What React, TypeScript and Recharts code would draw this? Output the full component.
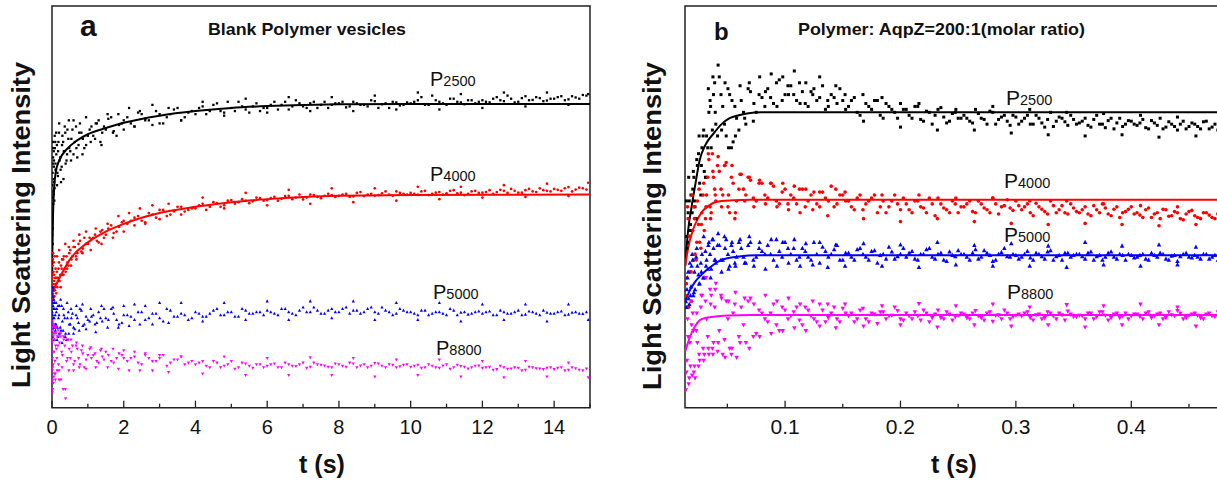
import React from "react";
import { ComposedChart, Scatter, Line, XAxis, YAxis, ReferenceArea } from "recharts";

const FONT = "'Liberation Sans', Arial, Helvetica, sans-serif";
const AXIS = "#222";

// ---------- panel a : blank polymer vesicles (t in s, intensity in arb. units) ----------
const timeA = [
  0.005, 0.01, 0.015, 0.02, 0.03, 0.04, 0.05,
  0.06, 0.08, 0.1,
  0.12, 0.15, 0.18, 0.21, 0.25, 0.29, 0.33, 0.38, 0.43, 0.48,
  0.54, 0.6, 0.67, 0.74, 0.82, 0.9, 1.0,
  1.1, 1.2, 1.3, 1.4, 1.5, 1.65, 1.8, 1.95,
  2.1, 2.3, 2.5, 2.7, 2.9, 3.1, 3.3, 3.5, 3.7, 3.9,
  4.1, 4.3, 4.5, 4.7, 4.9, 5.1, 5.3, 5.5, 5.7, 5.9,
  6.1, 6.3, 6.5, 6.7, 6.9, 7.1, 7.3, 7.5, 7.7, 7.9,
  8.1, 8.3, 8.5, 8.7, 8.9, 9.1, 9.3, 9.5, 9.7, 9.9,
  10.1, 10.3, 10.5, 10.7, 10.9, 11.1, 11.3, 11.5, 11.7, 11.9,
  12.1, 12.3, 12.5, 12.7, 12.9, 13.1, 13.3, 13.5, 13.7, 13.9,
  14.1, 14.3, 14.5, 14.7, 14.9,
];
const p2500A = [
  4.5, 6.2, 7.6, 5.3, 8.1, 6.9, 7.8,
  7.3, 8.4, 7.7,
  8.2, 7.6, 8.6, 8.0, 7.3, 8.8, 8.3, 7.9, 9.0, 8.4,
  8.7, 8.2, 9.1, 8.5, 8.9, 8.4, 8.8,
  9.1, 8.7, 9.3, 8.9, 9.0, 9.4, 8.8, 9.2,
  9.4, 9.1, 9.5, 9.3, 9.6, 9.2, 9.5, 9.7, 9.4, 9.6,
  9.7, 9.5, 9.8, 9.6, 9.9, 9.6, 9.75, 9.55, 9.85, 9.7,
  9.8, 9.65, 9.9, 9.75, 9.85, 9.7, 9.9, 9.8, 9.7, 9.85,
  9.9, 9.75, 9.85, 9.8, 9.95, 9.7, 9.85, 9.9, 9.78, 9.88,
  9.9, 10.05, 9.8, 9.95, 9.85, 10.0, 9.9, 9.82, 9.95, 9.9,
  9.9, 10.0, 9.95, 10.1, 9.88, 10.02, 9.95, 10.05, 9.92, 10.0,
  10.05, 9.95, 10.08, 10.0, 10.1,
];
const p4000A = [
  3.7, 4.2, 3.5, 4.6, 3.9, 4.4, 3.6,
  4.1, 3.8, 4.5,
  4.2, 3.9, 4.5, 4.1, 4.6, 4.3, 4.9, 4.4, 4.7, 5.0,
  4.8, 5.2, 4.9, 5.3, 5.05, 5.5, 5.3,
  5.45, 5.6, 5.35, 5.75, 5.6, 5.9, 5.7, 6.0,
  5.95, 6.15, 6.05, 6.3, 6.15, 6.4, 6.25, 6.5, 6.35, 6.45,
  6.55, 6.4, 6.65, 6.5, 6.7, 6.6, 6.75, 6.62, 6.8, 6.7,
  6.78, 6.7, 6.85, 6.75, 6.9, 6.8, 6.88, 6.78, 6.92, 6.82,
  6.9, 6.82, 6.95, 6.85, 6.92, 6.88, 7.0, 6.86, 6.95, 6.9,
  6.92, 7.0, 6.88, 6.96, 6.9, 7.02, 6.94, 6.88, 7.0, 6.95,
  6.98, 6.92, 7.05, 6.95, 7.02, 6.96, 7.08, 6.98, 7.04, 7.0,
  7.05, 7.1, 7.0, 7.12, 7.06,
];
const p5000A = [
  3.4, 2.8, 3.7, 3.0, 3.3, 2.6, 3.5,
  2.9, 3.2, 2.7,
  3.1, 2.6, 2.9, 3.3, 2.5, 2.8, 3.0, 2.4, 2.9, 2.7,
  2.9, 2.6, 3.0, 2.75, 3.15, 2.7, 2.85,
  2.95, 2.7, 3.1, 2.8, 2.9, 3.2, 2.85, 2.75,
  3.0, 2.85, 3.1, 2.9, 3.05, 2.8, 3.15, 2.95, 3.0, 2.9,
  3.05, 2.95, 3.15, 3.0, 3.1, 2.95, 3.2, 3.05, 3.1, 3.0,
  3.1, 3.0, 3.2, 3.05, 3.15, 3.1, 3.25, 3.05, 3.15, 3.1,
  3.2, 3.05, 3.15, 3.1, 3.25, 3.05, 3.15, 3.0, 3.2, 3.1,
  3.05, 3.15, 3.0, 3.1, 3.05, 3.2, 3.0, 3.1, 3.05, 3.12,
  3.1, 3.0, 3.15, 3.05, 3.1, 3.0, 3.12, 3.05, 3.15, 3.05,
  3.1, 3.0, 3.08, 3.05, 3.1,
];
const p8800A = [
  2.1, 1.2, 2.6, 0.6, 1.8, 2.3, 1.0,
  2.4, 1.5, 2.0,
  1.9, 2.3, 1.4, 2.1, 0.9, 1.7, 2.2, 0.3, 1.6, 1.9,
  1.8, 1.4, 2.0, 1.6, 1.85, 1.3, 1.7,
  1.6, 1.75, 1.45, 1.65, 1.8, 1.5, 1.6, 1.7,
  1.5, 1.65, 1.4, 1.6, 1.5, 1.7, 1.45, 1.55, 1.4, 1.5,
  1.45, 1.35, 1.5, 1.3, 1.4, 1.25, 1.45, 1.35, 1.4, 1.3,
  1.4, 1.3, 1.45, 1.35, 1.4, 1.28, 1.45, 1.38, 1.32, 1.42,
  1.35, 1.45, 1.3, 1.4, 1.35, 1.42, 1.3, 1.38, 1.33, 1.4,
  1.35, 1.28, 1.4, 1.3, 1.36, 1.25, 1.38, 1.32, 1.3, 1.36,
  1.3, 1.22, 1.35, 1.25, 1.3, 1.2, 1.32, 1.27, 1.24, 1.3,
  1.28, 1.2, 1.3, 1.22, 1.26,
];
// second run of readings, in between the first
const timeA2 = [
  0.007, 0.012, 0.018, 0.025, 0.035, 0.045,
  0.055, 0.07, 0.09,
  0.11, 0.135, 0.165, 0.195, 0.23, 0.27, 0.31, 0.355, 0.405, 0.455,
  0.51, 0.57, 0.635, 0.705, 0.78, 0.86, 0.95, 1.05,
  1.15, 1.25, 1.35, 1.45, 1.57, 1.72, 1.87, 2.0,
  2.2, 2.4, 2.6, 2.8, 3.0, 3.2, 3.4, 3.6, 3.8,
  4.0, 4.2, 4.4, 4.6, 4.8, 5.0, 5.2, 5.4, 5.6, 5.8,
  6.0, 6.2, 6.4, 6.6, 6.8, 7.0, 7.2, 7.4, 7.6, 7.8,
  8.0, 8.2, 8.4, 8.6, 8.8, 9.0, 9.2, 9.4, 9.6, 9.8,
  10.0, 10.2, 10.4, 10.6, 10.8, 11.0, 11.2, 11.4, 11.6, 11.8,
  12.0, 12.2, 12.4, 12.6, 12.8, 13.0, 13.2, 13.4, 13.6, 13.8,
  14.0, 14.2, 14.4, 14.6, 14.8,
];
const p2500A2 = [
  5.0, 7.2, 5.8, 8.4, 6.6, 7.4,
  8.0, 7.1, 8.6,
  7.7, 8.5, 7.5, 8.9, 8.1, 7.8, 8.6, 9.1, 8.0, 8.7,
  8.3, 9.0, 8.6, 8.1, 9.2, 8.7, 8.5, 9.0,
  8.8, 9.2, 8.6, 9.1, 9.35, 8.95, 9.15, 9.3,
  9.2, 9.55, 9.35, 9.15, 9.5, 9.4, 9.65, 9.3, 9.55,
  9.5, 9.75, 9.6, 9.85, 9.55, 9.7, 9.9, 9.65, 9.75, 9.6,
  9.7, 9.9, 9.8, 9.65, 9.95, 9.75, 9.85, 9.7, 9.9, 9.8,
  9.85, 9.72, 9.9, 9.8, 9.75, 9.92, 9.82, 9.7, 9.88, 9.8,
  9.85, 9.95, 9.8, 10.1, 9.9, 9.8, 10.0, 9.88, 9.95, 9.85,
  9.95, 9.88, 10.05, 9.92, 10.0, 9.9, 10.08, 9.96, 10.02, 9.94,
  10.0, 10.08, 9.98, 10.04, 10.12,
];
const p4000A2 = [
  3.9, 3.4, 4.3, 3.8, 4.0, 3.6,
  4.3, 3.9, 4.2,
  4.0, 4.4, 4.2, 4.7, 4.3, 4.5, 4.8, 4.5, 4.9, 4.6,
  5.1, 4.9, 5.2, 5.0, 5.4, 5.15, 5.3, 5.5,
  5.5, 5.4, 5.7, 5.5, 5.8, 5.65, 5.85, 6.05,
  6.05, 6.2, 5.95, 6.25, 6.4, 6.2, 6.35, 6.5, 6.4,
  6.45, 6.6, 6.5, 6.62, 6.55, 6.72, 6.65, 6.7, 6.68, 6.78,
  6.72, 6.82, 6.76, 6.86, 6.8, 6.74, 6.9, 6.82, 6.86, 6.88,
  6.86, 6.92, 6.84, 6.98, 6.9, 6.86, 6.94, 6.9, 7.0, 6.92,
  6.95, 6.9, 7.02, 6.92, 6.98, 6.94, 7.04, 6.96, 6.92, 7.02,
  6.96, 7.04, 6.98, 7.02, 7.08, 6.96, 7.04, 7.0, 7.1, 7.02,
  7.08, 7.02, 7.14, 7.06, 7.1,
];
const p5000A2 = [
  3.1, 3.6, 2.7, 3.9, 2.9, 3.2,
  3.4, 2.6, 3.0,
  2.7, 3.2, 2.3, 3.0, 2.6, 3.3, 2.5, 2.9, 2.2, 3.1,
  2.7, 3.05, 2.55, 2.9, 3.2, 2.65, 2.95, 2.8,
  3.0, 2.75, 2.9, 3.2, 2.85, 3.05, 2.7, 3.0,
  2.95, 3.1, 2.85, 3.05, 2.9, 3.2, 2.95, 3.05, 2.85,
  3.1, 2.95, 3.05, 3.2, 3.0, 3.1, 2.95, 3.15, 3.05, 3.1,
  3.15, 3.05, 3.2, 3.1, 3.0, 3.25, 3.1, 3.15, 3.05, 3.2,
  3.1, 3.25, 3.15, 3.05, 3.2, 3.1, 3.25, 3.1, 3.05, 3.15,
  3.1, 3.0, 3.15, 3.05, 3.1, 3.0, 3.15, 3.08, 3.02, 3.1,
  3.05, 3.12, 3.0, 3.1, 3.05, 3.15, 3.02, 3.1, 3.0, 3.08,
  3.05, 3.12, 3.02, 3.1, 3.04,
];
const p8800A2 = [
  1.6, 2.5, 0.9, 2.2, 1.4, 2.7,
  1.8, 2.2, 1.1,
  2.4, 1.6, 2.0, 1.2, 2.3, 1.8, 0.6, 2.0, 1.5, 2.2,
  1.6, 2.0, 1.5, 1.9, 1.4, 1.75, 1.55, 1.9,
  1.7, 1.5, 1.85, 1.55, 1.7, 1.45, 1.75, 1.6,
  1.6, 1.45, 1.7, 1.5, 1.6, 1.35, 1.55, 1.65, 1.45,
  1.4, 1.5, 1.3, 1.45, 1.35, 1.5, 1.3, 1.42, 1.28, 1.4,
  1.35, 1.42, 1.3, 1.4, 1.34, 1.45, 1.32, 1.4, 1.36, 1.3,
  1.4, 1.32, 1.42, 1.36, 1.3, 1.44, 1.35, 1.4, 1.3, 1.38,
  1.32, 1.38, 1.3, 1.35, 1.28, 1.4, 1.3, 1.34, 1.26, 1.35,
  1.28, 1.32, 1.24, 1.3, 1.26, 1.28, 1.22, 1.3, 1.26, 1.28,
  1.24, 1.3, 1.22, 1.27, 1.2,
];
// third run: the crowded start and the outer edge of the noise band
const timeA3 = [
  0.003, 0.008, 0.013, 0.022, 0.028, 0.038, 0.048, 0.065, 0.075, 0.095,
  0.115, 0.14, 0.17, 0.2, 0.24, 0.28, 0.32, 0.37, 0.42, 0.47,
  0.53, 0.6, 0.68, 0.76, 0.85, 0.95, 1.08, 1.22, 1.38, 1.55,
  1.7, 1.85, 2.0, 2.15, 2.3, 2.45, 2.6, 2.8, 3.0, 3.25,
  3.6, 4.2, 4.8, 5.4, 6.0, 6.6, 7.2, 7.8, 8.4, 9.0,
  9.6, 10.2, 10.8, 11.4, 12.0, 12.6, 13.2, 13.8, 14.4, 14.95,
];
const p2500A3 = [
  5.6, 6.8, 4.8, 7.9, 8.6, 7.0, 8.3, 6.7, 8.8, 7.9,
  8.9, 7.2, 8.3, 9.2, 7.7, 8.5, 7.4, 8.9, 8.2, 9.3,
  8.0, 9.3, 8.4, 8.9, 8.2, 9.4, 8.6, 9.2, 8.5, 9.5,
  8.9, 9.5, 9.0, 9.7, 9.1, 9.6, 9.3, 9.8, 9.2, 9.7,
  9.3, 9.9, 9.45, 10.0, 9.55, 10.05, 9.6, 10.05, 9.6, 10.1,
  9.65, 10.2, 9.65, 10.15, 9.7, 10.2, 9.75, 10.2, 9.8, 10.15,
];
const p4000A3 = [
  3.4, 4.8, 3.6, 4.3, 5.0, 3.8, 4.7, 3.6, 4.9, 4.0,
  3.7, 4.9, 4.1, 5.1, 3.9, 4.8, 4.3, 5.3, 4.5, 5.2,
  4.6, 5.4, 4.8, 5.6, 5.0, 5.7, 5.1, 5.8, 5.3, 5.95,
  5.5, 6.2, 5.7, 6.3, 5.9, 6.45, 6.0, 6.55, 6.1, 6.6,
  6.25, 6.8, 6.45, 6.95, 6.55, 7.05, 6.6, 7.1, 6.65, 7.1,
  6.7, 7.15, 6.75, 7.15, 6.8, 7.2, 6.82, 7.25, 6.85, 7.28,
];
const p5000A3 = [
  3.9, 2.5, 3.6, 2.3, 3.8, 2.6, 3.5, 2.2, 3.4, 2.5,
  3.4, 2.2, 3.3, 2.4, 3.5, 2.1, 3.2, 2.3, 3.4, 2.4,
  3.2, 2.4, 3.3, 2.5, 3.35, 2.55, 3.2, 2.45, 3.3, 2.6,
  3.25, 2.6, 3.3, 2.65, 3.35, 2.7, 3.3, 2.7, 3.4, 2.75,
  3.4, 2.8, 3.4, 2.85, 3.45, 2.85, 3.45, 2.9, 3.45, 2.85,
  3.4, 2.85, 3.4, 2.8, 3.35, 2.85, 3.35, 2.8, 3.35, 2.85,
];
const p8800A3 = [
  2.8, 0.5, 2.5, 1.3, 2.7, 0.8, 2.4, 1.1, 2.6, 0.9,
  2.6, 1.2, 2.5, 0.9, 2.4, 1.3, 2.3, 0.6, 2.2, 1.2,
  2.2, 1.2, 2.1, 1.3, 2.0, 1.25, 1.95, 1.3, 1.9, 1.3,
  1.9, 1.25, 1.85, 1.2, 1.8, 1.2, 1.75, 1.2, 1.7, 1.15,
  1.65, 1.1, 1.65, 1.05, 1.6, 1.05, 1.62, 1.05, 1.6, 1.0,
  1.55, 1.05, 1.55, 1.0, 1.5, 0.98, 1.5, 1.0, 1.45, 0.98,
];
// fitted curves drawn on panel a
const fitTime2500A = [0, 0.03, 0.06, 0.1, 0.2, 0.4, 0.7, 1, 1.5, 2, 3, 4, 5, 6, 7, 8, 10, 15];
const fit2500A = [4.3, 6.3, 7.1, 7.6, 8.0, 8.35, 8.65, 8.85, 9.05, 9.22, 9.45, 9.6, 9.7, 9.76, 9.8, 9.82, 9.83, 9.83];
const fitTime4000A = [0, 0.1, 0.3, 0.5, 1, 1.5, 2, 3, 4, 5, 6, 7, 8, 10, 15];
const fit4000A = [3.7, 3.95, 4.4, 4.8, 5.35, 5.7, 5.95, 6.3, 6.5, 6.65, 6.75, 6.82, 6.86, 6.88, 6.9];

// ---------- panel b : polymer / AqpZ = 200:1 ----------
const timeB = [
  0.014, 0.016, 0.018, 0.02, 0.022, 0.024, 0.026, 0.028, 0.03,
  0.032, 0.034, 0.036, 0.038, 0.04,
  0.043, 0.046, 0.049, 0.052, 0.055, 0.058,
  0.062, 0.066, 0.07, 0.075, 0.08,
  0.085, 0.09, 0.095, 0.1,
  0.105, 0.11, 0.115, 0.12, 0.125, 0.13, 0.135, 0.14, 0.145, 0.15,
  0.155, 0.16, 0.165, 0.17, 0.175, 0.18, 0.185, 0.19, 0.195, 0.2,
  0.205, 0.21, 0.215, 0.22, 0.225, 0.23, 0.235, 0.24, 0.245, 0.25,
  0.255, 0.26, 0.265, 0.27, 0.275, 0.28, 0.285, 0.29, 0.295, 0.3,
  0.305, 0.31, 0.315, 0.32, 0.325, 0.33, 0.335, 0.34, 0.345, 0.35,
  0.355, 0.36, 0.365, 0.37, 0.375, 0.38, 0.385, 0.39, 0.395, 0.4,
  0.405, 0.41, 0.415, 0.42, 0.425, 0.43, 0.435, 0.44, 0.445, 0.45,
  0.455, 0.46, 0.465, 0.47, 0.475, 0.48,
];
const p2500B = [
  2.9, 3.3, 3.1, 3.7, 3.4, 4.1, 3.8, 4.4, 4.0,
  4.6, 5.0, 4.4, 5.3, 4.8,
  5.6, 5.1, 4.6, 5.3, 4.5, 4.9,
  5.2, 4.8, 5.35, 5.0, 5.25,
  5.4, 5.15, 5.55, 5.3,
  5.45, 5.2, 5.35, 5.1, 5.4, 5.25, 5.05, 5.3, 5.15, 5.2,
  5.1, 5.25, 4.95, 5.15, 5.05, 5.2, 4.9, 5.1, 5.0, 5.15,
  5.05, 4.9, 5.1, 4.85, 5.0, 4.95, 5.08, 4.82, 4.98, 4.9,
  4.95, 4.85, 5.05, 4.9, 4.8, 5.0, 4.88, 4.95, 4.78, 4.92,
  4.85, 4.95, 4.8, 4.9, 4.75, 5.0, 4.85, 4.9, 4.78, 4.88,
  4.82, 4.9, 4.75, 4.95, 4.8, 4.86, 4.72, 4.9, 4.8, 4.85,
  4.78, 4.88, 4.72, 4.82, 4.9, 4.75, 4.8, 4.7, 4.85, 4.76,
  4.8, 4.72, 4.85, 4.75, 4.7, 4.8,
];
const p4000B = [
  1.9, 3.2, 2.3, 3.0, 2.6, 3.5, 2.8, 3.3, 3.0,
  3.6, 4.2, 3.3, 3.9, 3.5,
  4.0, 3.6, 4.15, 3.3, 3.8, 3.5,
  3.95, 3.6, 3.85, 3.5, 3.8,
  3.55, 3.75, 3.45, 3.7,
  3.6, 3.45, 3.7, 3.5, 3.65, 3.4, 3.55, 3.75, 3.45, 3.6,
  3.5, 3.35, 3.6, 3.45, 3.55, 3.3, 3.5, 3.4, 3.6, 3.35,
  3.45, 3.3, 3.5, 3.38, 3.55, 3.25, 3.45, 3.35, 3.5, 3.3,
  3.4, 3.5, 3.3, 3.45, 3.35, 3.55, 3.28, 3.42, 3.38, 3.5,
  3.35, 3.45, 3.25, 3.4, 3.32, 3.5, 3.3, 3.42, 3.28, 3.38,
  3.3, 3.4, 3.25, 3.35, 3.45, 3.28, 3.36, 3.22, 3.32, 3.4,
  3.3, 3.22, 3.38, 3.28, 3.2, 3.35, 3.25, 3.3, 3.18, 3.32,
  3.25, 3.2, 3.3, 3.22, 3.28, 3.24,
];
const p5000B = [
  1.8, 2.3, 1.9, 2.5, 2.0, 2.4, 2.1, 2.6, 2.2,
  2.5, 2.8, 2.35, 2.7, 2.45,
  2.75, 2.5, 2.85, 2.4, 2.65, 2.55,
  2.7, 2.45, 2.8, 2.55, 2.65,
  2.75, 2.5, 2.65, 2.8,
  2.6, 2.5, 2.7, 2.55, 2.8, 2.45, 2.65, 2.6, 2.75, 2.5,
  2.62, 2.5, 2.7, 2.55, 2.65, 2.45, 2.6, 2.72, 2.52, 2.6,
  2.55, 2.65, 2.5, 2.6, 2.7, 2.52, 2.62, 2.48, 2.58, 2.66,
  2.6, 2.5, 2.68, 2.55, 2.62, 2.48, 2.6, 2.7, 2.55, 2.58,
  2.55, 2.65, 2.5, 2.6, 2.52, 2.66, 2.56, 2.5, 2.62, 2.58,
  2.6, 2.52, 2.64, 2.56, 2.5, 2.62, 2.55, 2.6, 2.5, 2.58,
  2.55, 2.6, 2.5, 2.58, 2.62, 2.52, 2.57, 2.48, 2.6, 2.55,
  2.58, 2.52, 2.6, 2.55, 2.5, 2.57,
];
const p8800B = [
  0.3, 1.2, 0.7, 1.6, 0.5, 1.1, 0.8, 1.9, 0.9,
  1.5, 0.9, 1.9, 1.1, 2.1,
  1.3, 0.9, 1.8, 1.0, 1.6, 0.85,
  1.7, 1.1, 1.85, 1.25, 1.6,
  1.45, 1.75, 1.3, 1.65,
  1.55, 1.7, 1.4, 1.65, 1.5, 1.75, 1.45, 1.6, 1.5, 1.68,
  1.55, 1.45, 1.65, 1.5, 1.6, 1.42, 1.62, 1.55, 1.7, 1.5,
  1.6, 1.5, 1.55, 1.65, 1.45, 1.58, 1.52, 1.62, 1.48, 1.56,
  1.58, 1.5, 1.64, 1.52, 1.6, 1.46, 1.57, 1.65, 1.5, 1.56,
  1.55, 1.62, 1.48, 1.58, 1.52, 1.6, 1.5, 1.57, 1.63, 1.54,
  1.56, 1.5, 1.6, 1.54, 1.62, 1.48, 1.58, 1.52, 1.6, 1.55,
  1.58, 1.5, 1.62, 1.55, 1.6, 1.52, 1.57, 1.64, 1.5, 1.56,
  1.6, 1.52, 1.58, 1.55, 1.62, 1.5,
];
// second run of readings, in between the first
const timeB2 = [
  0.015, 0.017, 0.019, 0.021, 0.023, 0.025, 0.027, 0.029, 0.031,
  0.033, 0.035, 0.037, 0.039, 0.0415,
  0.0445, 0.0475, 0.0505, 0.0535, 0.0565, 0.06,
  0.064, 0.068, 0.0725, 0.0775, 0.0825,
  0.0875, 0.0925, 0.0975, 0.1025,
  0.1075, 0.1125, 0.1175, 0.1225, 0.1275, 0.1325, 0.1375, 0.1425, 0.1475, 0.1525,
  0.1575, 0.1625, 0.1675, 0.1725, 0.1775, 0.1825, 0.1875, 0.1925, 0.1975, 0.2025,
  0.2075, 0.2125, 0.2175, 0.2225, 0.2275, 0.2325, 0.2375, 0.2425, 0.2475, 0.2525,
  0.2575, 0.2625, 0.2675, 0.2725, 0.2775, 0.2825, 0.2875, 0.2925, 0.2975, 0.3025,
  0.3075, 0.3125, 0.3175, 0.3225, 0.3275, 0.3325, 0.3375, 0.3425, 0.3475, 0.3525,
  0.3575, 0.3625, 0.3675, 0.3725, 0.3775, 0.3825, 0.3875, 0.3925, 0.3975, 0.4025,
  0.4075, 0.4125, 0.4175, 0.4225, 0.4275, 0.4325, 0.4375, 0.4425, 0.4475, 0.4525,
  0.4575, 0.4625, 0.4675, 0.4725, 0.4775,
];
const p2500B2 = [
  2.7, 3.5, 3.0, 3.9, 3.2, 4.3, 3.6, 4.6, 3.9,
  4.4, 5.2, 4.7, 5.5, 4.6,
  5.3, 4.8, 5.4, 4.4, 5.1, 4.7,
  5.0, 5.4, 4.85, 5.3, 5.1,
  5.25, 5.5, 5.2, 5.45,
  5.3, 5.5, 5.15, 5.35, 5.2, 5.45, 5.1, 5.25, 5.4, 5.05,
  5.2, 5.0, 5.3, 5.1, 5.2, 4.95, 5.15, 5.05, 4.9, 5.05,
  4.95, 5.1, 4.88, 5.02, 4.8, 5.05, 4.92, 4.85, 5.0, 4.9,
  4.9, 4.82, 4.98, 4.88, 5.02, 4.8, 4.92, 4.85, 4.95, 4.8,
  4.9, 4.8, 4.95, 4.82, 4.88, 4.76, 4.92, 4.84, 4.95, 4.8,
  4.85, 4.78, 4.88, 4.8, 4.74, 4.9, 4.82, 4.76, 4.86, 4.8,
  4.82, 4.74, 4.86, 4.78, 4.72, 4.84, 4.76, 4.8, 4.72, 4.82,
  4.76, 4.84, 4.72, 4.8, 4.75,
];
const p4000B2 = [
  2.2, 2.9, 1.8, 3.4, 2.5, 3.1, 2.7, 3.6, 3.2,
  3.9, 3.4, 4.3, 3.7, 4.1,
  3.7, 4.1, 3.4, 3.9, 3.2, 3.7,
  3.7, 3.9, 3.55, 3.8, 3.6,
  3.8, 3.5, 3.65, 3.45,
  3.55, 3.7, 3.4, 3.6, 3.45, 3.65, 3.5, 3.4, 3.6, 3.5,
  3.4, 3.55, 3.35, 3.5, 3.6, 3.4, 3.3, 3.5, 3.45, 3.55,
  3.35, 3.5, 3.4, 3.3, 3.45, 3.55, 3.38, 3.3, 3.45, 3.4,
  3.45, 3.32, 3.5, 3.38, 3.3, 3.45, 3.4, 3.52, 3.34, 3.42,
  3.4, 3.3, 3.46, 3.36, 3.28, 3.42, 3.35, 3.3, 3.45, 3.32,
  3.35, 3.28, 3.42, 3.3, 3.38, 3.25, 3.4, 3.3, 3.36, 3.28,
  3.26, 3.35, 3.22, 3.3, 3.36, 3.24, 3.32, 3.2, 3.28, 3.34,
  3.22, 3.3, 3.26, 3.2, 3.28,
];
const p5000B2 = [
  2.0, 1.75, 2.4, 1.95, 2.55, 2.25, 2.45, 2.2, 2.65,
  2.35, 2.6, 2.85, 2.5, 2.75,
  2.5, 2.9, 2.6, 2.75, 2.45, 2.8,
  2.55, 2.75, 2.5, 2.7, 2.6,
  2.6, 2.85, 2.55, 2.7,
  2.7, 2.55, 2.65, 2.5, 2.6, 2.72, 2.55, 2.68, 2.5, 2.62,
  2.55, 2.68, 2.6, 2.5, 2.66, 2.58, 2.52, 2.64, 2.56, 2.7,
  2.62, 2.52, 2.6, 2.68, 2.55, 2.6, 2.5, 2.64, 2.56, 2.6,
  2.55, 2.62, 2.52, 2.66, 2.58, 2.5, 2.63, 2.56, 2.6, 2.52,
  2.6, 2.54, 2.62, 2.56, 2.64, 2.5, 2.58, 2.62, 2.55, 2.6,
  2.56, 2.62, 2.5, 2.58, 2.55, 2.64, 2.52, 2.58, 2.6, 2.54,
  2.58, 2.52, 2.62, 2.55, 2.6, 2.5, 2.58, 2.56, 2.62, 2.54,
  2.55, 2.6, 2.52, 2.58, 2.56,
];
const p8800B2 = [
  0.8, 0.5, 1.4, 0.6, 1.3, 0.7, 1.7, 1.0, 1.8,
  1.2, 2.0, 1.0, 1.7, 0.95,
  1.9, 1.15, 1.5, 0.9, 1.75, 1.2,
  1.4, 1.8, 1.2, 1.65, 1.5,
  1.6, 1.4, 1.7, 1.5,
  1.62, 1.48, 1.7, 1.55, 1.45, 1.65, 1.52, 1.7, 1.45, 1.6,
  1.6, 1.5, 1.68, 1.45, 1.58, 1.62, 1.5, 1.56, 1.64, 1.48,
  1.55, 1.62, 1.48, 1.6, 1.52, 1.65, 1.5, 1.58, 1.54, 1.6,
  1.52, 1.6, 1.55, 1.48, 1.62, 1.56, 1.5, 1.6, 1.54, 1.58,
  1.6, 1.52, 1.57, 1.5, 1.62, 1.55, 1.6, 1.48, 1.58, 1.54,
  1.55, 1.6, 1.5, 1.62, 1.56, 1.52, 1.6, 1.55, 1.5, 1.58,
  1.54, 1.6, 1.52, 1.58, 1.5, 1.62, 1.55, 1.6, 1.52, 1.58,
  1.56, 1.5, 1.6, 1.54, 1.58,
];
// third run: the crowded start and the outer edge of the noise band
const timeB3 = [
  0.0145, 0.0155, 0.0165, 0.0175, 0.0185, 0.0195, 0.0205, 0.0215, 0.0235, 0.0255,
  0.0275, 0.0295, 0.0315, 0.0335, 0.0355, 0.0375, 0.0395, 0.042, 0.045, 0.048,
  0.051, 0.054, 0.057, 0.061, 0.065, 0.069, 0.073, 0.078, 0.083, 0.088,
  0.093, 0.098, 0.103, 0.108, 0.113, 0.118, 0.124, 0.13, 0.137, 0.144,
  0.152, 0.168, 0.184, 0.2, 0.216, 0.232, 0.248, 0.264, 0.28, 0.296,
  0.312, 0.328, 0.344, 0.36, 0.376, 0.392, 0.408, 0.424, 0.44, 0.456,
];
const p2500B3 = [
  3.5, 2.8, 3.9, 3.0, 3.6, 3.3, 4.0, 3.5, 4.2, 4.6,
  4.1, 4.7, 3.9, 5.4, 5.1, 5.6, 5.0, 5.8, 4.7, 5.5,
  4.4, 5.2, 4.6, 5.45, 4.9, 5.5, 5.15, 5.6, 5.35, 5.65,
  5.1, 5.6, 5.3, 5.7, 5.15, 5.5, 5.3, 5.6, 5.2, 5.45,
  5.3, 4.85, 5.25, 4.75, 5.15, 4.7, 5.05, 4.7, 5.1, 4.65,
  5.05, 4.62, 5.0, 4.6, 4.98, 4.62, 4.95, 4.58, 4.92, 4.6,
];
const p4000B3 = [
  2.1, 3.4, 1.7, 2.9, 2.3, 3.6, 2.5, 3.2, 2.8, 3.7,
  3.1, 3.8, 3.4, 4.3, 3.2, 4.0, 3.6, 4.25, 3.4, 4.1,
  3.6, 4.1, 3.3, 3.95, 3.5, 3.9, 3.4, 3.85, 3.45, 3.8,
  3.4, 3.8, 3.35, 3.75, 3.3, 3.7, 3.35, 3.65, 3.25, 3.7,
  3.65, 3.2, 3.6, 3.15, 3.6, 3.2, 3.55, 3.15, 3.55, 3.12,
  3.5, 3.1, 3.5, 3.12, 3.45, 3.1, 3.42, 3.08, 3.4, 3.1,
];
const p5000B3 = [
  1.7, 2.2, 1.85, 2.45, 2.05, 2.6, 1.9, 2.3, 2.7, 2.1,
  2.3, 2.9, 2.4, 2.75, 2.2, 2.85, 2.5, 2.95, 2.3, 2.7,
  2.35, 2.8, 2.4, 2.85, 2.45, 2.9, 2.4, 2.8, 2.35, 2.85,
  2.4, 2.8, 2.45, 2.85, 2.4, 2.78, 2.42, 2.8, 2.38, 2.76,
  2.4, 2.78, 2.4, 2.76, 2.38, 2.8, 2.42, 2.75, 2.4, 2.78,
  2.4, 2.74, 2.38, 2.8, 2.42, 2.74, 2.4, 2.76, 2.42, 2.72,
];
const p8800B3 = [
  0.6, 1.5, 0.4, 1.1, 1.8, 0.55, 1.3, 0.7, 1.6, 0.9,
  1.9, 0.8, 2.2, 1.0, 1.75, 0.9, 2.0, 1.1, 1.85, 0.85,
  1.8, 1.0, 1.95, 1.1, 1.85, 1.0, 1.75, 1.2, 1.9, 1.25,
  1.8, 1.3, 1.85, 1.35, 1.75, 1.3, 1.8, 1.38, 1.75, 1.35,
  1.75, 1.38, 1.72, 1.4, 1.76, 1.36, 1.72, 1.4, 1.75, 1.38,
  1.7, 1.4, 1.74, 1.36, 1.72, 1.4, 1.75, 1.4, 1.7, 1.38,
];
// fitted curves drawn on panel b
const fitTime2500B = [0.0135, 0.016, 0.019, 0.022, 0.026, 0.031, 0.038, 0.045, 0.052, 0.06, 0.067, 0.08, 0.1, 0.5];
const fit2500B = [2.4, 3.0, 3.4, 3.75, 4.19, 4.45, 4.64, 4.8, 4.9, 4.95, 4.98, 5.0, 5.0, 5.0];
const fitTime4000B = [0.0135, 0.016, 0.02, 0.025, 0.029, 0.034, 0.038, 0.045, 0.055, 0.07, 0.5];
const fit4000B = [2.4, 2.7, 3.0, 3.22, 3.34, 3.42, 3.47, 3.5, 3.51, 3.52, 3.52];
const fitTime5000B = [0.0135, 0.0176, 0.022, 0.027, 0.032, 0.038, 0.0436, 0.05, 0.06, 0.075, 0.5];
const fit5000B = [1.8, 1.99, 2.13, 2.24, 2.33, 2.42, 2.49, 2.53, 2.56, 2.58, 2.58];
const fitTime8800B = [0.0135, 0.0176, 0.022, 0.026, 0.031, 0.038, 0.05, 0.07, 0.5];
const fit8800B = [0.95, 1.2, 1.38, 1.48, 1.52, 1.54, 1.56, 1.57, 1.57];

// axis ticks (no labels on the intensity axis)
const xTicksA = [0, 1, 2, 3, 4, 5, 6, 7, 8, 9, 10, 11, 12, 13, 14, 15];
const yTicksA = [1, 2, 3, 4, 5, 6, 7, 8, 9, 10, 11, 12];
const xTicksB = [0.05, 0.1, 0.15, 0.2, 0.25, 0.3, 0.35, 0.4, 0.45, 0.5];
const yTicksB = [1, 2, 3, 4, 5, 6];

const zip = (ts: number[], vs: number[]) => ts.map((t, i) => ({ t, v: vs[i] }));
const runs = (...pairs: [number[], number[]][]) => pairs.flatMap(([ts, vs]) => zip(ts, vs));

// marker shapes
const square = (s: number, c: string) => (p: any) => (
  <rect x={p.cx - s / 2} y={p.cy - s / 2} width={s} height={s} fill={c} />
);
const dot = (r: number, c: string) => (p: any) => <circle cx={p.cx} cy={p.cy} r={r} fill={c} />;
const triUp = (s: number, c: string) => (p: any) => (
  <path d={`M${p.cx},${p.cy - s * 0.55}L${p.cx + s / 2},${p.cy + s * 0.4}L${p.cx - s / 2},${p.cy + s * 0.4}Z`} fill={c} />
);
const triDown = (s: number, c: string) => (p: any) => (
  <path d={`M${p.cx},${p.cy + s * 0.55}L${p.cx + s / 2},${p.cy - s * 0.4}L${p.cx - s / 2},${p.cy - s * 0.4}Z`} fill={c} />
);

// inward ticks, custom drawn
const xTickA = (p: any) => {
  const v = p.payload.value;
  const major = v % 2 === 0;
  return (
    <g>
      <line x1={p.x} x2={p.x} y1={p.y} y2={p.y - (major ? 7 : 4)} stroke={AXIS} strokeWidth={1.3} />
      {major && v < 15 && (
        <text x={p.x} y={p.y + 26} textAnchor="middle" fontSize={20} fontFamily={FONT} fill="#111">
          {v}
        </text>
      )}
    </g>
  );
};
const xTickB = (p: any) => {
  const v = p.payload.value;
  const major = Math.round(v * 100) % 10 === 0;
  return (
    <g>
      <line x1={p.x} x2={p.x} y1={p.y} y2={p.y - (major ? 7 : 4)} stroke={AXIS} strokeWidth={1.3} />
      {major && v < 0.45 && (
        <text x={p.x} y={p.y + 26} textAnchor="middle" fontSize={21} fontFamily={FONT} fill="#111">
          {v.toFixed(1)}
        </text>
      )}
    </g>
  );
};
const yTickA = (p: any) => {
  const major = p.payload.value % 2 === 0;
  return <line x1={p.x} x2={p.x + (major ? 7 : 4)} y1={p.y} y2={p.y} stroke={AXIS} strokeWidth={1.3} />;
};
const yTickB = (p: any) => <line x1={p.x} x2={p.x + 8} y1={p.y} y2={p.y} stroke={AXIS} strokeWidth={1.3} />;

function PLabel({ x, y, n, big, small }: { x: number; y: number; n: string; big: number; small: number }) {
  return (
    <text x={x} y={y} fontFamily={FONT} fill="#111">
      <tspan fontSize={big}>P</tspan>
      <tspan fontSize={small}>{n}</tspan>
    </text>
  );
}

export default function App() {
  const scatA = [
    { d: runs([timeA, p2500A], [timeA2, p2500A2], [timeA3, p2500A3]), s: square(2.3, "#000000") },
    { d: runs([timeA, p4000A], [timeA2, p4000A2], [timeA3, p4000A3]), s: dot(1.35, "#ff0000") },
    { d: runs([timeA, p5000A], [timeA2, p5000A2], [timeA3, p5000A3]), s: triUp(3.2, "#0000ff") },
    { d: runs([timeA, p8800A], [timeA2, p8800A2], [timeA3, p8800A3]), s: triDown(3.2, "#ff00ff") },
  ];
  const scatB = [
    { d: runs([timeB, p2500B], [timeB2, p2500B2], [timeB3, p2500B3]), s: square(3, "#000000") },
    { d: runs([timeB, p4000B], [timeB2, p4000B2], [timeB3, p4000B3]), s: dot(1.8, "#ff0000") },
    { d: runs([timeB, p5000B], [timeB2, p5000B2], [timeB3, p5000B3]), s: triUp(4.5, "#0000ff") },
    { d: runs([timeB, p8800B], [timeB2, p8800B2], [timeB3, p8800B3]), s: triDown(4.5, "#ff00ff") },
  ];
  const fitsB = [
    { d: zip(fitTime2500B, fit2500B), c: "#000000" },
    { d: zip(fitTime4000B, fit4000B), c: "#ff0000" },
    { d: zip(fitTime5000B, fit5000B), c: "#0000ff" },
    { d: zip(fitTime8800B, fit8800B), c: "#ff00ff" },
  ];

  return (
    <div style={{ position: "absolute", left: 0, top: 0, width: 1217, height: 481, overflow: "hidden", background: "#fff" }}>
      <div style={{ position: "absolute", left: 0, top: 0 }}>
        <ComposedChart width={600} height={481} margin={{ top: 6, right: 10, bottom: 43.3, left: 52 }}>
          <XAxis
            dataKey="t"
            type="number"
            domain={[0, 15]}
            allowDataOverflow
            ticks={xTicksA}
            interval={0}
            height={30}
            tickSize={0}
            tickMargin={0}
            tickLine={false}
            axisLine={false}
            tick={xTickA}
          />
          <YAxis
            dataKey="v"
            type="number"
            domain={[0, 13]}
            allowDataOverflow
            ticks={yTicksA}
            interval={0}
            width={0}
            tickSize={0}
            tickMargin={0}
            tickLine={false}
            axisLine={false}
            tick={yTickA}
          />
          {scatA.map((s, i) => (
            <Scatter key={"sa" + i} data={s.d} shape={s.s} isAnimationActive={false} />
          ))}
          <Line data={zip(fitTime2500A, fit2500A)} dataKey="v" type="monotone" stroke="#000000" strokeWidth={2} dot={false} isAnimationActive={false} />
          <Line data={zip(fitTime4000A, fit4000A)} dataKey="v" type="monotone" stroke="#ff0000" strokeWidth={2} dot={false} isAnimationActive={false} />
          <ReferenceArea x1={0} x2={15} y1={0} y2={13} fill="none" stroke={AXIS} strokeWidth={1.5} />
        </ComposedChart>
      </div>
      <div style={{ position: "absolute", left: 600, top: 0 }}>
        <ComposedChart width={700} height={481} margin={{ top: 6, right: 53.3, bottom: 43.3, left: 85 }}>
          <XAxis
            dataKey="t"
            type="number"
            domain={[0.0133, 0.5]}
            allowDataOverflow
            ticks={xTicksB}
            interval={0}
            height={30}
            tickSize={0}
            tickMargin={0}
            tickLine={false}
            axisLine={false}
            tick={xTickB}
          />
          <YAxis
            dataKey="v"
            type="number"
            domain={[0, 6.8]}
            allowDataOverflow
            ticks={yTicksB}
            interval={0}
            width={0}
            tickSize={0}
            tickMargin={0}
            tickLine={false}
            axisLine={false}
            tick={yTickB}
          />
          {scatB.map((s, i) => (
            <Scatter key={"sb" + i} data={s.d} shape={s.s} isAnimationActive={false} />
          ))}
          {fitsB.map((f, i) => (
            <Line key={"fb" + i} data={f.d} dataKey="v" type="monotone" stroke={f.c} strokeWidth={2} dot={false} isAnimationActive={false} />
          ))}
          <ReferenceArea x1={0.0133} x2={0.5} y1={0} y2={6.8} fill="none" stroke={AXIS} strokeWidth={1.5} />
        </ComposedChart>
      </div>
      <svg width={1217} height={481} style={{ position: "absolute", left: 0, top: 0, pointerEvents: "none" }}>
        <text x={80} y={36} fontSize={30} fontWeight="bold" fontFamily={FONT} fill="#111">a</text>
        <text x={208} y={35} fontSize={17} fontWeight="bold" fontFamily={FONT} fill="#111" textLength={198} lengthAdjust="spacingAndGlyphs">
          Blank Polymer vesicles
        </text>
        <text x={714} y={40} fontSize={24} fontWeight="bold" fontFamily={FONT} fill="#111">b</text>
        <text x={798} y={35} fontSize={17} fontWeight="bold" fontFamily={FONT} fill="#111" textLength={287} lengthAdjust="spacingAndGlyphs">
          Polymer: AqpZ=200:1(molar ratio)
        </text>
        <text transform="translate(30,225) rotate(-90)" textAnchor="middle" fontSize={26} fontWeight="bold" fontFamily={FONT} fill="#111" textLength={326} lengthAdjust="spacingAndGlyphs">
          Light Scattering Intensity
        </text>
        <text transform="translate(661,226) rotate(-90)" textAnchor="middle" fontSize={26} fontWeight="bold" fontFamily={FONT} fill="#111" textLength={328} lengthAdjust="spacingAndGlyphs">
          Light Scattering Intensity
        </text>
        <text x={322} y={473} textAnchor="middle" fontSize={25} fontWeight="bold" fontFamily={FONT} fill="#111">t (s)</text>
        <text x={954} y={473} textAnchor="middle" fontSize={25} fontWeight="bold" fontFamily={FONT} fill="#111">t (s)</text>
        <PLabel x={430} y={86} n="2500" big={20} small={14.5} />
        <PLabel x={430} y={181} n="4000" big={20} small={14.5} />
        <PLabel x={433} y={299} n="5000" big={20} small={14.5} />
        <PLabel x={436} y={355} n="8800" big={20} small={14.5} />
        <PLabel x={1006} y={105} n="2500" big={21} small={14.5} />
        <PLabel x={1004} y={188} n="4000" big={21} small={14.5} />
        <PLabel x={1004} y={242} n="5000" big={21} small={14.5} />
        <PLabel x={1007} y={299} n="8800" big={21} small={14.5} />
      </svg>
    </div>
  );
}
